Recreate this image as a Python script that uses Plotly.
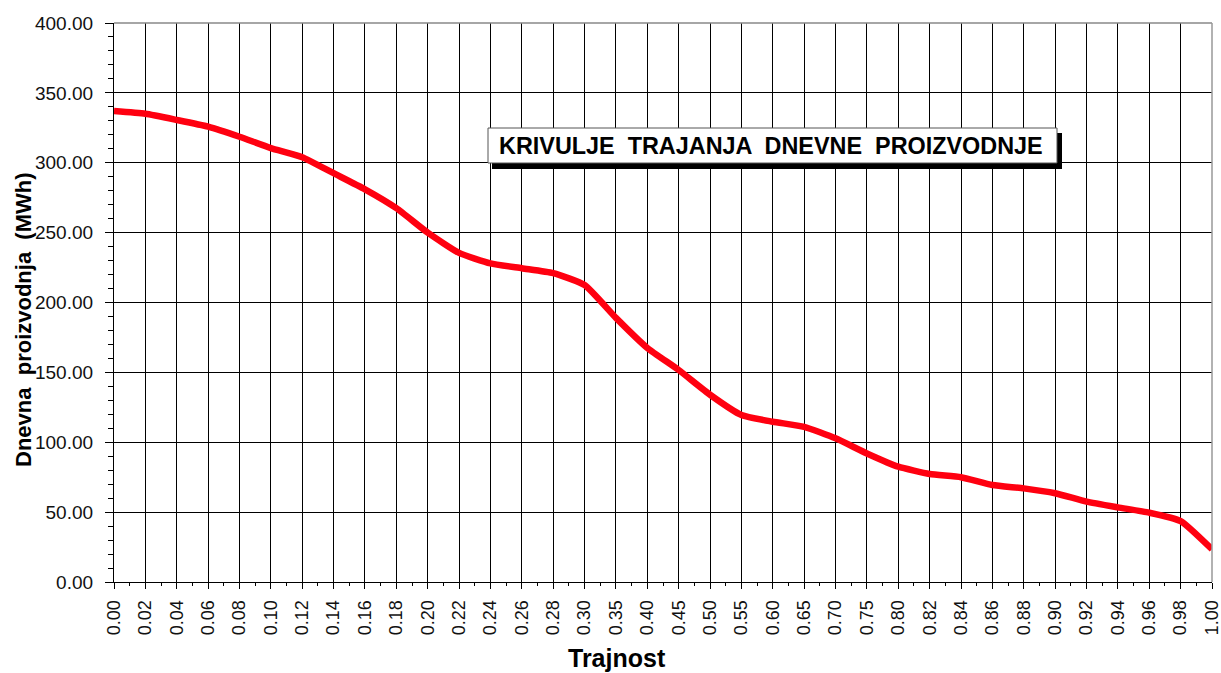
import plotly.graph_objects as go

trajnost = ["0.00", "0.02", "0.04", "0.06", "0.08", "0.10", "0.12", "0.14", "0.16", "0.18",
            "0.20", "0.22", "0.24", "0.26", "0.28", "0.30", "0.35", "0.40", "0.45", "0.50",
            "0.55", "0.60", "0.65", "0.70", "0.75", "0.80", "0.82", "0.84", "0.86", "0.88",
            "0.90", "0.92", "0.94", "0.96", "0.98", "1.00"]
proizvodnja = [337, 335, 330.6, 325.8, 318.6, 310.5, 304, 292.5, 281, 267.5,
               250, 235.5, 228, 224.5, 221, 212.5, 189, 167.5, 151.7, 134,
               119.5, 114.7, 111, 102.8, 92, 82.5, 77.3, 75, 69.4, 67,
               63.5, 57.5, 53.4, 49.6, 43.6, 23.4]
y_ticks = [0, 50, 100, 150, 200, 250, 300, 350, 400]

idx = list(range(len(trajnost)))

fig = go.Figure()
fig.add_trace(go.Scatter(
    x=idx, y=proizvodnja, mode="lines",
    line=dict(color="#FF0010", width=6.5, shape="spline", smoothing=0.5),
    showlegend=False, hoverinfo="skip",
))

font = "Liberation Sans, Arial, sans-serif"
L, R, T, B = 114, 1212, 23, 582
W, H = R - L, B - T

fig.update_layout(
    width=1221, height=673,
    margin=dict(l=L, r=1221 - R, t=T, b=673 - B),
    paper_bgcolor="white", plot_bgcolor="white",
    font=dict(family=font, color="black"),
    xaxis=dict(
        range=[0, len(trajnost) - 1], automargin=False,
        tickmode="array", tickvals=idx, ticktext=trajnost,
        tickangle=-90, tickfont=dict(size=18, family=font, color="#111111"),
        ticks="outside", ticklen=6, tickcolor="black", tickwidth=1,
        ticklabelstandoff=4, ticklabeloverflow="allow",
        minor=dict(dtick=0.5, tick0=0, ticks="outside", ticklen=3, tickcolor="black", showgrid=False),
        showgrid=True, gridcolor="black", gridwidth=1.2,
        showline=True, linecolor="black", linewidth=1.2,
        zeroline=False,
    ),
    yaxis=dict(
        range=[0, 400], automargin=False,
        tickmode="array", tickvals=y_ticks, tickformat=".2f",
        tickfont=dict(size=19, family=font, color="#111111"),
        ticks="outside", ticklen=8, tickcolor="black", tickwidth=1,
        ticklabelstandoff=8, ticklabeloverflow="allow",
        minor=dict(dtick=10, tick0=0, ticks="outside", ticklen=5, tickcolor="black", showgrid=False),
        showgrid=True, gridcolor="black", gridwidth=1.2,
        showline=True, linecolor="black", linewidth=1.2,
        zeroline=False,
    ),
    shapes=[
        dict(type="line", xref="paper", yref="paper", x0=0, x1=1, y0=1, y1=1,
             line=dict(color="#888888", width=1.5)),
        dict(type="line", xref="paper", yref="paper", x0=1, x1=1, y0=0, y1=1,
             line=dict(color="#999999", width=1.5)),
        dict(type="rect", xref="paper", yref="paper",
             x0=(492 - L) / W, x1=(1062 - L) / W,
             y0=(B - 169) / H, y1=(B - 133) / H,
             fillcolor="black", line=dict(width=0), layer="above"),
        dict(type="rect", xref="paper", yref="paper",
             x0=(488 - L) / W, x1=(1057 - L) / W,
             y0=(B - 163) / H, y1=(B - 128) / H,
             fillcolor="white", line=dict(color="#555555", width=1), layer="above"),
    ],
    annotations=[
        dict(text="<b>KRIVULJE  TRAJANJA  DNEVNE  PROIZVODNJE</b>",
             xref="paper", yref="paper",
             x=(771 - L) / W, y=(B - 146) / H,
             xanchor="center", yanchor="middle", showarrow=False,
             font=dict(size=23.4, family=font, color="black")),
        dict(text="<b>Trajnost</b>", xref="paper", yref="paper",
             x=(617 - L) / W, y=(B - 658) / H,
             xanchor="center", yanchor="middle", showarrow=False,
             font=dict(size=25, family=font, color="black")),
        dict(text="<b>Dnevna  proizvodnja  (MWh)</b>", xref="paper", yref="paper",
             x=(23 - L) / W, y=(B - 320) / H, textangle=-90,
             xanchor="center", yanchor="middle", showarrow=False,
             font=dict(size=22, family=font, color="black")),
    ],
)

fig.write_html("out.html", config={"displayModeBar": False},
               post_script="document.body.style.margin='0px';")
